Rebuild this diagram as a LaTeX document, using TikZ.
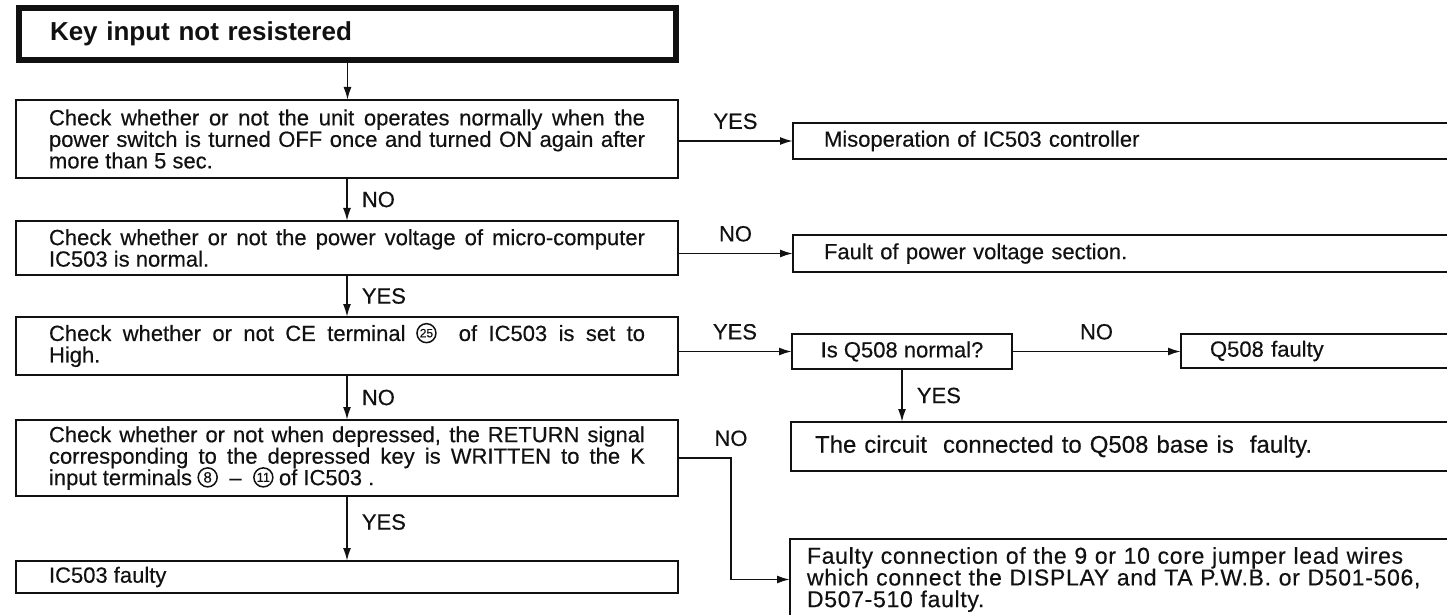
\documentclass[tikz,border=0pt]{standalone}
\usepackage{fontspec}
\usepackage{pict2e}
\setmainfont{Liberation Sans}[UprightFeatures={FakeBold=0.4}]
\usetikzlibrary{arrows.meta}
\definecolor{ink}{HTML}{111111}
\newcommand{\kfont}{\fontsize{11}{10.75}\selectfont\tolerance=10000\hbadness=10000\hyphenpenalty=10000\exhyphenpenalty=10000}
\newcommand{\cn}[2][7.5]{{\setlength{\unitlength}{1pt}\linethickness{0.75pt}%
  \begin{picture}(9.5,8)\put(4.75,3.9){\circle{9.5}}\put(4.75,3.9){\makebox(0,0){\fontsize{#1}{#1}\selectfont #2}}\end{picture}}}
\tikzset{
  box/.style={draw=ink,line width=1pt,anchor=north west,outer sep=0pt,inner ysep=0pt,font=\kfont,text=ink},
  lbox/.style={box,minimum width=331pt,inner xsep=16.5pt,text width=298pt,align=justify},
  rbox/.style={box,align=left},
  kopf/.style={box,line width=2.8pt,minimum width=328.5pt,minimum height=26pt,inner xsep=15.5pt,text width=297.5pt,align=left,font=\fontsize{13}{13}\selectfont\bfseries},
  arr/.style={-{Latex[length=6.5pt,width=4pt]},ink,line width=0.9pt},
  lbl/.style={font=\kfont,text=ink,inner sep=0pt},
}
\begin{document}
\begin{tikzpicture}[x=0.5pt,y=-0.5pt]
  \useasboundingbox (0,0) rectangle (1447,615);
  \clip (0,0) rectangle (1447,615);
  % left column
  \node[kopf] (top) at (19,8) {Key input not resistered};
  \node[lbox,minimum height=39pt] (b1) at (16,100) {Check whether or not the unit operates normally when the\linebreak power switch is turned OFF once and turned ON again after\linebreak more than 5 sec.};
  \node[lbox,minimum height=27pt] (b2) at (16,221) {Check whether or not the power voltage of micro-computer\linebreak IC503 is normal.};
  \node[lbox,minimum height=29pt] (b3) at (16,317) {Check whether or not CE terminal \cn[6]{25}\ \ of IC503 is set to\linebreak High.};
  \node[lbox,minimum height=38pt] (b4) at (16,420) {Check whether or not when depressed, the RETURN signal\linebreak corresponding to the depressed key is WRITTEN to the K\linebreak input terminals \cn{8}\ \ --\ \ \cn[6.5]{11} of IC503 .};
  \node[lbox,minimum height=16pt] (ic) at (16,561) {IC503 faulty};
  % right column
  \node[rbox,minimum width=338.5pt,minimum height=18pt,inner xsep=15.5pt,text width=307.5pt] (miso) at (793,123) {Misoperation of IC503 controller};
  \node[rbox,minimum width=338.5pt,minimum height=18.5pt,inner xsep=15.5pt,text width=307.5pt] (pwr) at (793,235) {Fault of power voltage section.};
  \node[box,minimum width=110pt,minimum height=17.5pt,inner xsep=0pt] (q) at (792,334) {Is Q508 normal?};
  \node[rbox,minimum width=144.5pt,minimum height=17pt,inner xsep=14.5pt,text width=115.5pt] (qf) at (1181,334) {Q508 faulty};
  \node[rbox,minimum width=339.5pt,minimum height=24.5pt,inner xsep=12pt,text width=315.5pt,font=\fontsize{12}{12}\selectfont] (circ) at (791,422) {The circuit\ \ connected to Q508 base is\ \ faulty.};
  \node[rbox,minimum width=340pt,minimum height=40.5pt,inner xsep=8.5pt,text width=323pt,font=\fontsize{11.5}{10.85}\selectfont\addfontfeature{LetterSpace=3}] (fcon) at (790,539) {Faulty connection of the 9 or 10 core jumper lead wires\\ which connect the DISPLAY and TA P.W.B. or D501-506,\\ D507-510 faulty.};
  \coordinate (knick) at (731,0);
  % connectors
  \draw[arr] (top.south) -- (top.south |- b1.north);
  \draw[arr] (b1.south) -- node[lbl,right=7pt] {NO} (b1.south |- b2.north);
  \draw[arr] (b2.south) -- node[lbl,right=7pt] {YES} (b2.south |- b3.north);
  \draw[arr] (b3.south) -- node[lbl,right=7pt] {NO} (b3.south |- b4.north);
  \draw[arr] (b4.south) -- node[lbl,right=7pt,pos=0.4] {YES} (b4.south |- ic.north);
  \draw[arr] (b1.east |- miso.west) -- node[lbl,above=5.5pt] {YES} (miso.west);
  \draw[arr] (b2.east |- pwr.west) -- node[lbl,above=5.5pt] {NO} (pwr.west);
  \draw[arr] (b3.east |- q.west) -- node[lbl,above=5.5pt] {YES} (q.west);
  \draw[arr] (q.east) -- node[lbl,above=5.5pt] {NO} (q.east -| qf.west);
  \draw[arr] (q.south) -- node[lbl,right=7pt] {YES} (q.south |- circ.north);
  \draw[arr] (b4.east) -- (b4.east -| knick) node[lbl,above=5.5pt] {NO} |- (fcon.west);
\end{tikzpicture}
\end{document}
